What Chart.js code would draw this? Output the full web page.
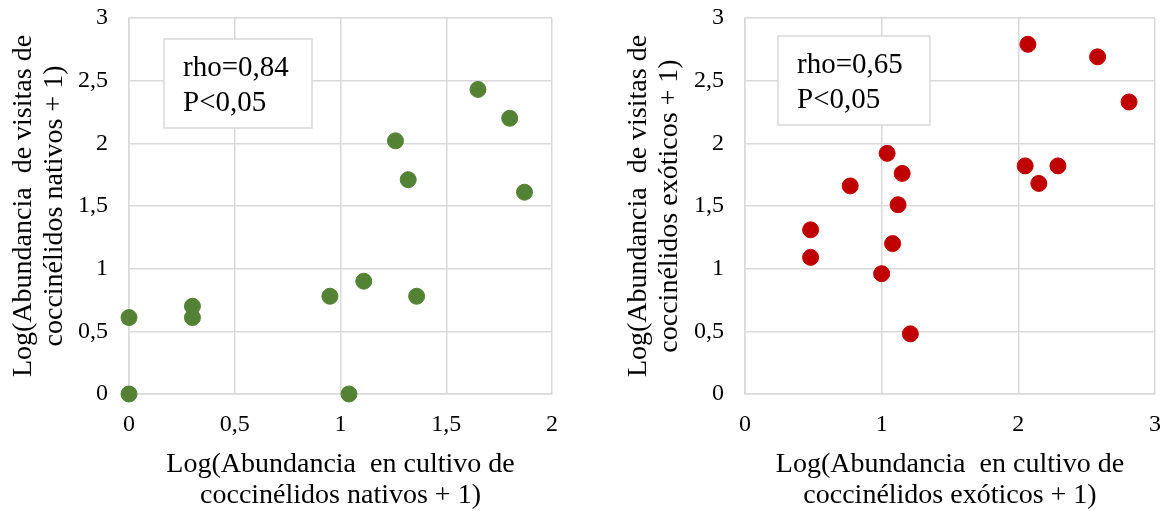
<!DOCTYPE html>
<html>
<head>
<meta charset="utf-8">
<script src="https://cdn.jsdelivr.net/npm/chart.js@4.4.1/dist/chart.umd.min.js"></script>
<style>
  html, body { margin: 0; padding: 0; background: #fff; }
  #wrap { position: relative; width: 1164px; height: 511px; }
  .panel { position: absolute; top: 0; width: 582px; height: 511px; }
</style>
</head>
<body>
<div id="wrap">
  <div class="panel" style="left:0"><canvas id="chartNativos" width="582" height="511"></canvas></div>
  <div class="panel" style="left:582px"><canvas id="chartExoticos" width="582" height="511"></canvas></div>
</div>
<script>
// Native ladybirds
const nativosX = [0, 0, 0.30, 0.30, 0.95, 1.11, 1.04, 1.36, 1.26, 1.32, 1.65, 1.80, 1.87];
const nativosY = [0, 0.61, 0.70, 0.61, 0.78, 0.90, 0, 0.78, 2.02, 1.71, 2.43, 2.20, 1.61];
const nativosXTicks = [0, 0.5, 1, 1.5, 2];
const nativosStats = ['rho=0,84', 'P<0,05'];

// Exotic ladybirds
const exoticosX = [0.48, 0.48, 0.77, 1.04, 1.15, 1.12, 1.08, 1.00, 1.21, 2.07, 2.58, 2.81, 2.05, 2.29, 2.15];
const exoticosY = [1.31, 1.09, 1.66, 1.92, 1.76, 1.51, 1.20, 0.96, 0.48, 2.79, 2.69, 2.33, 1.82, 1.82, 1.68];
const exoticosXTicks = [0, 1, 2, 3];
const exoticosStats = ['rho=0,65', 'P<0,05'];

const yTicks = [0, 0.5, 1, 1.5, 2, 2.5, 3];

const FONT = '"Liberation Serif", "Times New Roman", serif';
const GRID = '#d9d9d9';

function comma(v) {
    return String(v).replace('.', ',');
}

// draws the rho / P text box inside the plot
const statBox = {
    id: 'statBox',
    beforeDatasetsDraw(chart, args, opts) {
        const ctx = chart.ctx;
        const area = chart.chartArea;
        const x = area.left + opts.left;
        const y = area.top + opts.top;
        ctx.save();
        ctx.fillStyle = '#fff';
        ctx.fillRect(x, y, opts.width, opts.height);
        ctx.strokeStyle = GRID;
        ctx.lineWidth = 1.5;
        ctx.strokeRect(x, y, opts.width, opts.height);
        ctx.fillStyle = '#000';
        ctx.font = '29px ' + FONT;
        ctx.textBaseline = 'alphabetic';
        opts.lines.forEach(function(t, i) {
            ctx.fillText(t, x + 19, y + 37 + i * 35);
        });
        ctx.restore();
    }
};

function makeChart(id, xs, ys, xTicks, xMax, color, xTitle, yTitle, stats, lay) {
    const points = xs.map(function(x, i) { return { x: x, y: ys[i] }; });
    return new Chart(document.getElementById(id), {
        type: 'scatter',
        data: {
            datasets: [{
                data: points,
                backgroundColor: color,
                borderColor: color,
                pointRadius: 8,
                pointHoverRadius: 8,
                clip: false
            }]
        },
        plugins: [statBox],
        options: {
            responsive: false,
            animation: false,
            layout: { padding: { left: 0, top: 18, right: lay.right, bottom: 0 } },
            plugins: {
                legend: { display: false },
                tooltip: { enabled: false },
                statBox: { left: lay.boxLeft, top: lay.boxTop, width: lay.boxW, height: 89, lines: stats }
            },
            scales: {
                x: {
                    type: 'linear',
                    min: 0,
                    max: xMax,
                    afterBuildTicks: function(scale) {
                        scale.ticks = xTicks.map(function(v) { return { value: v }; });
                    },
                    afterFit: function(scale) {
                        scale.height = 117;
                        scale.paddingLeft = 0;
                        scale.paddingRight = 0;
                    },
                    grid: { color: GRID, lineWidth: 1.5, drawTicks: false },
                    border: { color: GRID, width: 1.5 },
                    ticks: {
                        padding: 16,
                        color: '#000',
                        font: { family: FONT, size: 24 },
                        maxRotation: 0,
                        callback: function(v) { return comma(v); }
                    },
                    title: {
                        display: true,
                        text: xTitle,
                        color: '#000',
                        font: { family: FONT, size: 28, lineHeight: 1.1 },
                        padding: { top: 0, bottom: 0 }
                    }
                },
                y: {
                    type: 'linear',
                    min: 0,
                    max: 3,
                    afterBuildTicks: function(scale) {
                        scale.ticks = yTicks.map(function(v) { return { value: v }; });
                    },
                    afterFit: function(scale) {
                        scale.width = lay.yWidth;
                        scale.paddingTop = 0;
                        scale.paddingBottom = 0;
                    },
                    grid: { color: GRID, lineWidth: 1.5, drawTicks: false },
                    border: { color: GRID, width: 1.5 },
                    ticks: {
                        padding: 21,
                        color: '#000',
                        font: { family: FONT, size: 24 },
                        callback: function(v) { return comma(v); }
                    },
                    title: {
                        display: true,
                        text: yTitle,
                        color: '#000',
                        font: { family: FONT, size: 28, lineHeight: 1.1 },
                        padding: { top: lay.yTitlePad, bottom: 0 }
                    }
                }
            }
        }
    });
}

makeChart('chartNativos', nativosX, nativosY, nativosXTicks, 2, '#548235',
    ['Log(Abundancia  en cultivo de', 'coccinélidos nativos + 1)'],
    ['Log(Abundancia  de visitas de', 'coccinélidos nativos + 1)'],
    nativosStats,
    { right: 30, yWidth: 129, yTitlePad: 8, boxLeft: 35, boxTop: 21, boxW: 148 });

makeChart('chartExoticos', exoticosX, exoticosY, exoticosXTicks, 3, '#c00000',
    ['Log(Abundancia  en cultivo de', 'coccinélidos exóticos + 1)'],
    ['Log(Abundancia  de visitas de', 'coccinélidos exóticos + 1)'],
    exoticosStats,
    { right: 8, yWidth: 163, yTitlePad: 41, boxLeft: 33, boxTop: 18, boxW: 152 });
</script>
</body>
</html>
